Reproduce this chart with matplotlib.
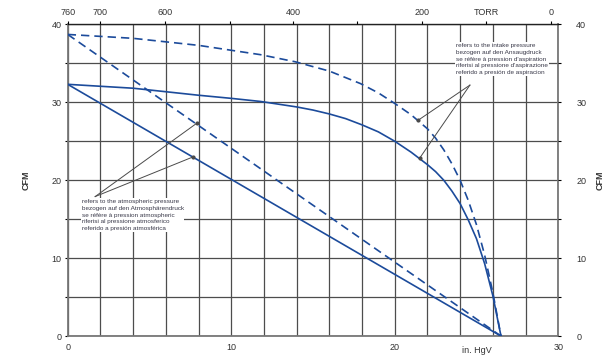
import matplotlib
matplotlib.use('Agg')
import matplotlib.pyplot as plt

plt.rcParams['font.family'] = ['Liberation Sans Narrow', 'Liberation Sans', 'DejaVu Sans']

# atmospheric pressure curves (straight)
atm_solid_x = [0, 26.5]
atm_solid_y = [32.3, 0]
atm_dash_x = [0, 26.5]
atm_dash_y = [38.7, 0]

# intake pressure curves
intake_solid_x = [0, 4.0, 8.0, 10.0, 11.8, 14.0, 15.0, 16.0, 17.0, 18.0, 19.0, 20.0, 21.0, 22.0,
                  22.5, 23.0, 23.5, 24.0, 24.5, 25.0, 25.5, 26.0, 26.5]
intake_solid_y = [32.3, 31.8, 30.9, 30.5, 30.1, 29.4, 29.0, 28.5, 27.9, 27.1, 26.2, 25.0, 23.6, 22.0,
                  21.1, 20.0, 18.6, 17.0, 14.9, 12.5, 9.3, 5.2, 0]
intake_dash_x = [0, 4.0, 8.0, 11.8, 13.9, 16.0, 17.9, 19.0, 20.0, 21.0, 22.0, 22.5, 23.0, 23.5,
                 24.0, 24.5, 25.0, 25.5, 26.0, 26.5]
intake_dash_y = [38.7, 38.2, 37.3, 36.1, 35.2, 34.0, 32.4, 31.2, 29.85, 28.4, 26.6, 25.4, 23.9, 22.1,
                 20.0, 17.4, 14.3, 10.4, 5.6, 0]

# top torr scale (positions in in. HgV)
torr_pos = [0, 2.0, 5.95, 9.9, 13.8, 17.7, 21.65, 25.6, 29.55]
torr_labels = ['760', '700', '600', '', '400', '', '200', 'TORR', '0']

atm_text = ("refers to the atmospheric pressure\nbezogen auf den Atmosphärendruck\n"
            "se réfère à pression atmospheric\nriferisi al pressione atmosferico\n"
            "referido a presión atmosférica")
intake_text = ("refers to the intake pressure\nbezogen auf den Ansaugdruck\n"
               "se réfère à pression d'aspiration\nriferisi al pressione d'aspirazione\n"
               "referido a presión de aspiracion")

blue = '#1c4b9b'
txt = '#333333'

fig = plt.figure(figsize=(6.11, 3.6), dpi=100, facecolor='w')
ax = fig.add_axes([0.1108, 0.0664, 0.8028, 0.8661])

ax.plot(atm_solid_x, atm_solid_y, '-', color=blue, lw=1.2, zorder=3)
ax.plot(atm_dash_x, atm_dash_y, '--', color=blue, lw=1.2, dashes=(5, 3), zorder=3)
ax.plot(intake_solid_x, intake_solid_y, '-', color=blue, lw=1.2, zorder=3)
ax.plot(intake_dash_x, intake_dash_y, '--', color=blue, lw=1.2, dashes=(5, 3), zorder=3)

yt = list(range(0, 41, 5))
ytl = [str(v) if v % 10 == 0 else '' for v in yt]

ax.set_xlim(0, 30)
ax.set_ylim(0, 40)
ax.set_xticks(range(0, 31, 2))
ax.set_xticklabels([str(v) if v % 10 == 0 else '' for v in range(0, 31, 2)])
ax.set_yticks(yt)
ax.set_yticklabels(ytl)
ax.grid(True, color='#4d4d4d', lw=0.9)
ax.tick_params(axis='x', length=0, labelsize=6.5, labelcolor=txt, pad=5)
ax.tick_params(axis='y', length=2, labelsize=6.5, labelcolor=txt, pad=2.5, direction='out')
for s in ax.spines.values():
    s.set_color('#777777')
    s.set_linewidth(1.3)
ax.spines['top'].set_color('#222222')
ax.spines['top'].set_linewidth(1.0)

right = ax.twinx()
right.set_ylim(0, 40)
right.set_yticks(yt)
right.set_yticklabels(ytl)
right.tick_params(axis='y', length=2, labelsize=6.5, labelcolor=txt, pad=11, direction='out')
for s in right.spines.values():
    s.set_visible(False)

top = ax.twiny()
top.set_xlim(0, 30)
top.set_xticks(torr_pos)
top.set_xticklabels(torr_labels)
top.tick_params(axis='x', length=2, labelsize=6.5, labelcolor=txt, pad=3, direction='out')
for s in top.spines.values():
    s.set_visible(False)

ax.text(25.0, -1.9, 'in. HgV', ha='center', va='center', fontsize=6.5, color=txt)
fig.text(0.043, 0.5, 'CFM', rotation=90, ha='center', va='center', fontsize=6.5,
         color=txt, fontweight='bold')
fig.text(0.982, 0.5, 'CFM', rotation=90, ha='center', va='center', fontsize=6.5,
         color=txt, fontweight='bold')

# annotations
gray = '#4a4a4a'
for tx, ty in [(7.89, 27.3), (7.68, 23.0)]:
    ax.plot([1.68, tx], [17.9, ty], color=gray, lw=0.7, zorder=4)
    ax.plot(tx, ty, 'o', color=gray, ms=2, zorder=4)
for tx, ty in [(21.44, 27.7), (21.55, 22.9)]:
    ax.plot([24.6, tx], [32.2, ty], color=gray, lw=0.7, zorder=4)
    ax.plot(tx, ty, 'o', color=gray, ms=2, zorder=4)

ax.text(0.85, 17.6, atm_text, ha='left', va='top', fontsize=4.6, color='#3a3a4a',
        linespacing=1.45, zorder=5,
        bbox=dict(fc='white', ec='none', pad=0.5))
ax.text(23.75, 37.6, intake_text, ha='left', va='top', fontsize=4.6, color='#3a3a4a',
        linespacing=1.45, zorder=5,
        bbox=dict(fc='white', ec='none', pad=0.5))

fig.savefig('out.png', dpi=100, facecolor='w')
plt.close()
